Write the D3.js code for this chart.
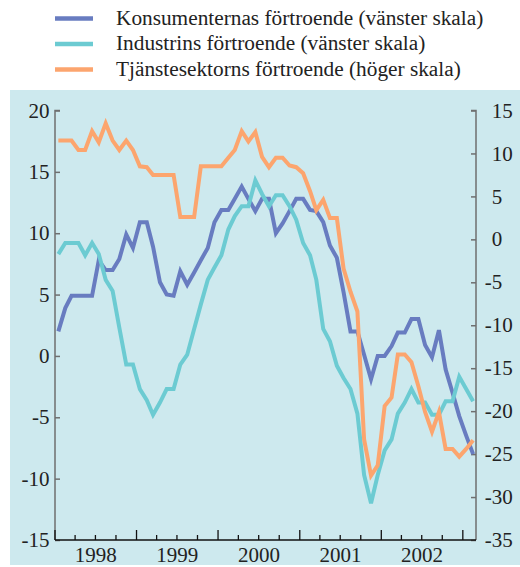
<!DOCTYPE html>
<html><head><meta charset="utf-8">
<script src="https://cdn.jsdelivr.net/npm/d3@7"></script>
<style>
html,body{margin:0;padding:0;background:#fff;}svg{display:block;}
</style>
</head><body>
<svg id="chart" width="520" height="567"></svg>
<script>
// ---- data (monthly, Jan 1998 – Feb 2003) ----
const startYear = 1998;
const seriesNames = [
  "Konsumenternas förtroende (vänster skala)",
  "Industrins förtroende (vänster skala)",
  "Tjänstesektorns förtroende (höger skala)"
];
const konsument = [2.0,3.9,4.9,4.9,4.9,4.9,7.8,7.0,7.0,7.9,9.9,8.8,
  10.9,10.9,8.9,6.0,5.0,4.9,6.9,5.8,6.8,7.8,8.8,10.9,
  11.9,11.9,12.8,13.8,12.8,11.8,12.8,12.8,10.0,10.8,11.8,12.8,
  12.8,11.9,11.8,10.9,9.0,8.0,5.2,2.0,2.0,0.1,-1.9,0.0,
  0.0,0.8,1.9,1.9,3.0,3.0,0.9,-0.1,2.1,-1.1,-3.0,-4.9,
  -6.5,-8.0];
const industri = [8.3,9.2,9.2,9.2,8.2,9.2,8.3,6.2,5.3,2.3,-0.7,-0.7,
  -2.7,-3.6,-4.8,-3.8,-2.7,-2.7,-0.7,0.1,2.2,4.2,6.2,7.2,
  8.2,10.3,11.4,12.2,12.2,14.3,13.2,12.2,13.1,13.1,12.2,11.1,
  9.2,8.2,6.2,2.2,1.2,-0.8,-1.8,-2.7,-4.7,-9.7,-12.0,-9.7,
  -7.7,-6.8,-4.7,-3.8,-2.7,-3.8,-3.8,-4.8,-4.8,-3.7,-3.7,-1.7,
  -2.7,-3.7];
const tjanst = [11.5,11.5,11.5,10.4,10.4,12.6,11.3,13.5,11.5,10.4,11.5,10.4,
  8.5,8.4,7.5,7.5,7.5,7.5,2.6,2.6,2.6,8.5,8.5,8.5,
  8.5,9.5,10.4,12.6,11.4,12.5,9.6,8.4,9.5,9.5,8.6,8.4,
  7.7,5.6,3.4,4.6,2.5,2.5,-3.4,-6.1,-8.4,-23.3,-27.5,-26.3,
  -19.4,-18.4,-13.4,-13.4,-14.3,-17.1,-20.1,-22.4,-20.1,-24.4,-24.4,-25.3,
  -24.4,-23.4];
const leftTicks = [-15,-10,-5,0,5,10,15,20];
const rightTicks = [-35,-30,-25,-20,-15,-10,-5,0,5,10,15];
const yearLabels = ["1998","1999","2000","2001","2002"];
const colors = ["#687cc0","#6ccbd2","#fca56e"];

// ---- layout ----
const svg = d3.select("#chart");
const FONT = '"Liberation Serif"';
const L = 55, R = 476, T = 110.5, B = 540;

svg.append("rect").attr("x",10).attr("y",90).attr("width",510).attr("height",475).attr("fill","#cde9ee");

const x = d3.scaleTime()
  .domain([new Date(startYear,0,1), new Date(startYear+5,2,1)])
  .range([L,R]);
const yL = d3.scaleLinear().domain([-15,20]).range([B,T]);
const yR = d3.scaleLinear().domain([-35,15]).range([B,T]);
const dateOf = i => new Date(startYear, i, 16);

// left axis
const gL = svg.append("g").attr("transform",`translate(${L},0)`)
  .call(d3.axisRight(yL).tickValues(leftTicks).tickSize(5).tickFormat(""));
gL.selectAll("path,line").attr("stroke","#6f6f6f").attr("stroke-width",1.5);
gL.select(".domain").attr("d",`M5,${T}H0V${B}`);
svg.append("g").selectAll("text").data(leftTicks).join("text")
  .attr("x",49.5).attr("y",d=>yL(d)).attr("dy","0.34em")
  .attr("text-anchor","end").attr("font-size",21).attr("fill","#222")
  .style("font-family",FONT)
  .text(d=>String(d));

// right axis
const gR = svg.append("g").attr("transform",`translate(${R},0)`)
  .call(d3.axisLeft(yR).tickValues(rightTicks).tickSize(5).tickFormat(""));
gR.selectAll("path,line").attr("stroke","#6f6f6f").attr("stroke-width",1.5);
gR.select(".domain").attr("d",`M-5,${T}H0V${B}`);
svg.append("g").selectAll("text").data(rightTicks).join("text")
  .attr("x",d=> d<0 ? 484.7 : 491.7).attr("y",d=>yR(d)).attr("dy","0.34em")
  .attr("text-anchor","start").attr("font-size",21).attr("fill","#222")
  .style("font-family",FONT)
  .text(d=>String(d));

// x axis
const quarters = d3.timeMonth.every(3).range(new Date(startYear,0,1), new Date(startYear+5,2,2));
const gX = svg.append("g").attr("transform",`translate(0,${B})`);
gX.append("line").attr("x1",L).attr("x2",R).attr("y1",0).attr("y2",0).attr("stroke","#111").attr("stroke-width",1.5);
gX.selectAll("line.tick").data(quarters).join("line").attr("class","tick")
  .attr("x1",d=>x(d)).attr("x2",d=>x(d)).attr("y1",0)
  .attr("y2",d=> d.getMonth()===0 ? -10 : -5)
  .attr("stroke","#111").attr("stroke-width",1.3);
gX.selectAll("text").data(yearLabels).join("text")
  .attr("x",d=> (x(new Date(+d,0,1)) + x(new Date(+d+1,0,1)))/2)
  .attr("y",22).attr("text-anchor","middle")
  .attr("font-size",21).attr("fill","#222")
  .style("font-family",FONT)
  .text(d=>d);

// lines
const mk = (scale) => d3.line().x((d,i)=>x(dateOf(i))).y(d=>scale(d));
const series = [[konsument,yL],[industri,yL],[tjanst,yR]];
series.forEach(([vals,sc],k)=>{
  svg.append("path").datum(vals).attr("d",mk(sc)).attr("fill","none")
    .attr("stroke",colors[k]).attr("stroke-width",4).attr("stroke-linejoin","miter");
});

// legend
const lg = svg.append("g");
seriesNames.forEach((name,k)=>{
  const by = 24.5 + k*25.5;
  lg.append("line").attr("x1",55).attr("x2",93).attr("y1",by-6).attr("y2",by-6)
    .attr("stroke",colors[k]).attr("stroke-width",4.5);
  lg.append("text").attr("x",116).attr("y",by).attr("font-size",21.3)
    .attr("fill","#222").style("font-family",FONT).text(name);
});
</script>
</body></html>
